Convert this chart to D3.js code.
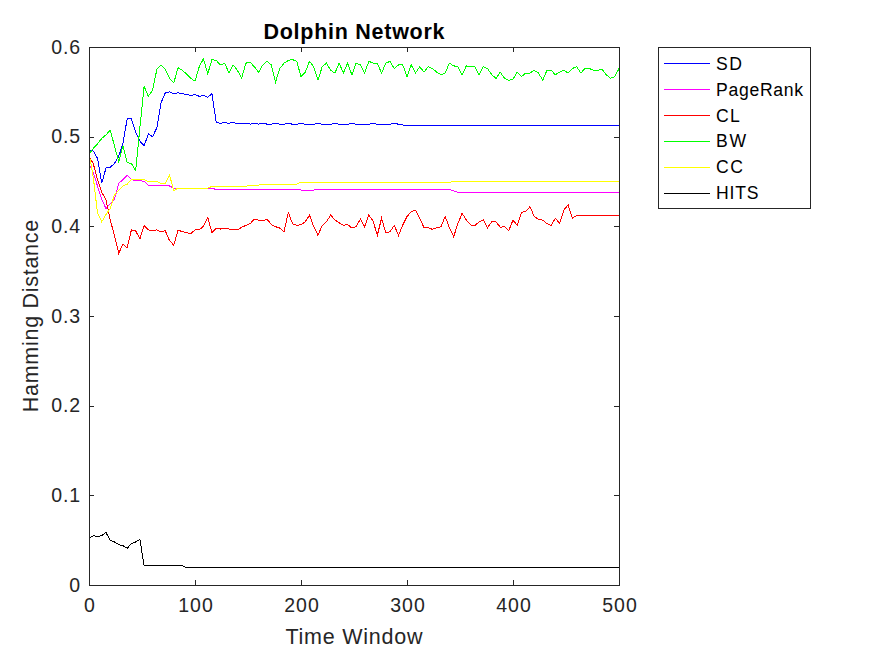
<!DOCTYPE html>
<html><head><meta charset="utf-8">
<script src="https://cdn.jsdelivr.net/npm/d3@7"></script>
<style>body{margin:0;background:#fff;} svg{display:block;font-family:"Liberation Sans",Arial,sans-serif;}</style>
</head><body><svg id="chart" width="875" height="656"></svg>
<script>
// Time window sampled every 4 steps (0..500)
const timeWindow = d3.range(0, 501, 4);
const xTicks = [0, 100, 200, 300, 400, 500];
const yTicks = [0, 0.1, 0.2, 0.3, 0.4, 0.5, 0.6];
const seriesNames = ["SD", "PageRank", "CL", "BW", "CC", "HITS"];
const seriesColors = ["#0000ff", "#ff00ff", "#ff0000", "#00ff00", "#ffff00", "#000000"];

const sdValues = [
.485,.484,.476,.448,.465,.466,.47,.478,.492,.52,
.52,.505,.495,.49,.503,.5,.51,.538,.549,.55,
.548,.549,.548,.547,.546,.547,.545,.546,.544,.548,
.516,.515,.5155,.515,.516,.5145,.5145,.515,.514,.5145,
.514,.515,.514,.514,.5145,.514,.514,.5145,.514,.514,
.5145,.514,.514,.514,.5145,.514,.514,.514,.5145,.514,
.514,.514,.5145,.514,.514,.514,.514,.5145,.514,.514,
.514,.514,.5145,.514,.513,.513,.513,.513,.513,.513,
.513,.513,.513,.513,.513,.5125,.5125,.5125,.5125,.5125,
.5125,.5125,.5125,.5125,.5125,.5125,.5125,.5125,.5125,.5125,
.5125,.512,.512,.512,.512,.512,.512,.512,.512,.512,
.512,.512,.512,.512,.512,.512,.512,.512,.512,.512,
.512,.512,.512,.512,.512,.512];

const pageRankValues = [
.47,.46,.445,.43,.42,.425,.43,.448,.452,.457,
.452,.451,.451,.45,.446,.445,.445,.445,.445,.445,
.4425,.4425,.4425,.4425,.4425,.4425,.4425,.4425,.4425,.4425,
.441,.441,.441,.441,.441,.441,.441,.441,.441,.441,
.441,.441,.441,.441,.441,.441,.441,.441,.441,.441,
.4405,.4405,.4405,.4405,.441,.441,.441,.441,.441,.441,
.441,.441,.441,.441,.441,.441,.441,.441,.441,.441,
.441,.441,.441,.441,.441,.441,.441,.441,.441,.441,
.441,.441,.441,.441,.441,.441,.4395,.438,.438,.438,
.438,.438,.438,.438,.438,.438,.438,.438,.438,.438,
.438,.438,.438,.438,.438,.438,.438,.438,.438,.438,
.438,.438,.438,.438,.438,.438,.438,.438,.438,.438,
.438,.438,.438,.438,.438,.438];

const clValues = [
.478,.47,.452,.438,.43,.407,.39,.37,.38,.376,
.396,.395,.386,.401,.396,.395,.396,.394,.395,.384,
.379,.396,.394,.393,.392,.396,.396,.4,.41,.393,
.398,.397,.398,.397,.396,.396,.399,.401,.403,.408,
.407,.406,.408,.402,.3996,.398,.394,.4156,.403,.401,
.402,.405,.4126,.3996,.39,.401,.405,.4126,.407,.404,
.401,.402,.398,.3996,.408,.3996,.4126,.406,.39,.409,
.393,.394,.401,.39,.4015,.411,.4164,.418,.409,.3985,
.3985,.3966,.3985,.3996,.411,.3985,.3885,.403,.4145,.407,
.4015,.401,.405,.407,.3985,.405,.405,.399,.3996,.395,
.407,.401,.4156,.4164,.422,.411,.408,.407,.403,.401,
.409,.403,.4183,.424,.409,.412,.412,.412,.412,.412,
.412,.412,.412,.412,.412,.412];

const bwValues = [
.48,.487,.492,.498,.502,.507,.49,.472,.49,.471,
.47,.462,.51,.556,.545,.552,.575,.58,.575,.565,
.56,.577,.574,.57,.565,.562,.578,.587,.57,.586,
.585,.58,.582,.571,.58,.574,.565,.582,.583,.578,
.572,.58,.584,.58,.561,.576,.582,.585,.586,.584,
.567,.572,.584,.578,.563,.578,.582,.574,.571,.582,
.571,.582,.569,.582,.58,.571,.584,.582,.582,.571,
.582,.584,.576,.58,.58,.567,.58,.571,.578,.572,
.578,.576,.572,.569,.571,.582,.579,.578,.569,.579,
.578,.578,.569,.578,.576,.569,.565,.572,.565,.563,
.564,.572,.567,.571,.571,.574,.571,.563,.574,.574,
.569,.572,.574,.571,.576,.578,.571,.576,.576,.574,
.574,.575,.569,.565,.567,.576];

const ccValues = [
.482,.455,.415,.405,.413,.42,.435,.44,.445,.447,
.452,.452,.452,.452,.45,.45,.45,.448,.448,.457,
.44,.4425,.4425,.4425,.4425,.4425,.4425,.4425,.4425,.4445,
.4445,.4445,.4445,.4445,.4445,.4445,.4445,.4445,.446,.446,
.446,.4472,.4472,.4472,.4472,.4472,.4472,.4472,.4472,.4472,
.449,.449,.449,.449,.449,.449,.449,.449,.449,.449,
.449,.449,.449,.449,.449,.449,.449,.449,.449,.449,
.449,.449,.449,.449,.449,.449,.449,.449,.449,.449,
.449,.449,.449,.449,.449,.449,.4502,.4502,.4502,.4502,
.4502,.4502,.4502,.4502,.4502,.4502,.4502,.4502,.4502,.4502,
.4502,.4502,.4502,.4502,.4502,.4502,.4502,.4502,.4502,.4502,
.4502,.4502,.4502,.4502,.4502,.4502,.4502,.4502,.4502,.4502,
.4502,.4502,.4502,.4502,.4502,.4502];

const hitsValues = [
.052,.055,.054,.055,.0585,.05,.048,.045,.044,.041,
.046,.048,.051,.0215,.0215,.0215,.0215,.0215,.0215,.0215,
.0215,.0215,.0215,.0195,.0195,.0195,.0195,.0195,.0195,.0195,
.0195,.0195,.0195,.0195,.0195,.0195,.0195,.0195,.0195,.0195,
.0195,.0195,.0195,.0195,.0195,.0195,.0195,.0195,.0195,.0195,
.0195,.0195,.0195,.0195,.0195,.0195,.0195,.0195,.0195,.0195,
.0195,.0195,.0195,.0195,.0195,.0195,.0195,.0195,.0195,.0195,
.0195,.0195,.0195,.0195,.0195,.0195,.0195,.0195,.0195,.0195,
.0195,.0195,.0195,.0195,.0195,.0195,.0195,.0195,.0195,.0195,
.0195,.0195,.0195,.0195,.0195,.0195,.0195,.0195,.0195,.0195,
.0195,.0195,.0195,.0195,.0195,.0195,.0195,.0195,.0195,.0195,
.0195,.0195,.0195,.0195,.0195,.0195,.0195,.0195,.0195,.0195,
.0195,.0195,.0195,.0195,.0195,.0195];

const seriesValues = [sdValues, pageRankValues, clValues, bwValues, ccValues, hitsValues];

(function draw() {
const svg = d3.select("#chart");
const axisColor = "#262626";
const pLeft = 89, pRight = 619, pTop = 47, pBottom = 585;
const x = d3.scaleLinear().domain([0, 500]).range([pLeft, pRight]);
const y = d3.scaleLinear().domain([0, 0.6]).range([pBottom, pTop]);
const WIDEN = 1.06;
function widen(sel) {
  sel.each(function() {
    const w = this.getComputedTextLength();
    if (this.textContent.length > 1) {
      d3.select(this).attr("textLength", w * WIDEN).attr("lengthAdjust", "spacing");
    }
  });
}

svg.append("rect").attr("x", pLeft).attr("y", pTop).attr("width", pRight - pLeft).attr("height", pBottom - pTop).attr("fill", "#fff");

const plot = svg.append("g");
seriesValues.forEach((vals, k) => {
  const line = d3.line().x((d, i) => x(timeWindow[i])).y(d => y(d));
  plot.append("path").datum(vals)
    .attr("d", line).attr("fill", "none")
    .attr("stroke", seriesColors[k]).attr("stroke-width", 1)
    .attr("shape-rendering", "crispEdges");
});

const tickFont = 19.5;
const gB = svg.append("g").attr("transform", `translate(0,${pBottom})`)
  .call(d3.axisBottom(x).tickValues(xTicks).tickFormat(d3.format("d")).tickSizeInner(-5).tickSizeOuter(0).tickPadding(13));
const gT = svg.append("g").attr("transform", `translate(0,${pTop})`)
  .call(d3.axisTop(x).tickValues(xTicks).tickFormat("").tickSizeInner(-5).tickSizeOuter(0));
const gL = svg.append("g").attr("transform", `translate(${pLeft},0)`)
  .call(d3.axisLeft(y).tickValues(yTicks).tickFormat(d => d === 0 ? "0" : d3.format(".1f")(d)).tickSizeInner(-5).tickSizeOuter(0).tickPadding(9));
const gR = svg.append("g").attr("transform", `translate(${pRight},0)`)
  .call(d3.axisRight(y).tickValues(yTicks).tickFormat("").tickSizeInner(-5).tickSizeOuter(0));
[gB, gT, gL, gR].forEach(g => {
  g.selectAll("path,line").attr("stroke", axisColor).attr("shape-rendering", "crispEdges");
  g.selectAll("text").attr("fill", axisColor).attr("font-size", tickFont)
    .attr("font-family", '"Liberation Sans", Arial, sans-serif');
});
widen(gB.selectAll("text"));
widen(gL.selectAll("text"));

svg.append("text").attr("x", (pLeft + pRight) / 2).attr("y", 39).attr("text-anchor", "middle")
  .attr("font-size", 21.5).attr("font-weight", "bold").attr("fill", "#000").text("Dolphin Network").call(widen);
svg.append("text").attr("x", (pLeft + pRight) / 2).attr("y", 644).attr("text-anchor", "middle")
  .attr("font-size", 21.5).attr("fill", axisColor).text("Time Window").call(widen);
svg.append("text").attr("transform", `translate(38,${(pTop + pBottom) / 2}) rotate(-90)`).attr("text-anchor", "middle")
  .attr("font-size", 21.5).attr("fill", axisColor).text("Hamming Distance").call(widen);

const lg = svg.append("g");
lg.append("rect").attr("x", 658).attr("y", 47.5).attr("width", 152).attr("height", 161)
  .attr("fill", "#fff").attr("stroke", axisColor).attr("stroke-width", 1).attr("shape-rendering", "crispEdges");
seriesNames.forEach((name, k) => {
  const cy = 63.3 + k * 25.95;
  lg.append("line").attr("x1", 664).attr("x2", 710).attr("y1", cy).attr("y2", cy)
    .attr("stroke", seriesColors[k]).attr("stroke-width", 1).attr("shape-rendering", "crispEdges");
  lg.append("text").attr("x", 716).attr("y", cy + 6.3).attr("font-size", 17.6).attr("fill", "#000")
    .text(name).call(widen);
});
})();
</script></body></html>
